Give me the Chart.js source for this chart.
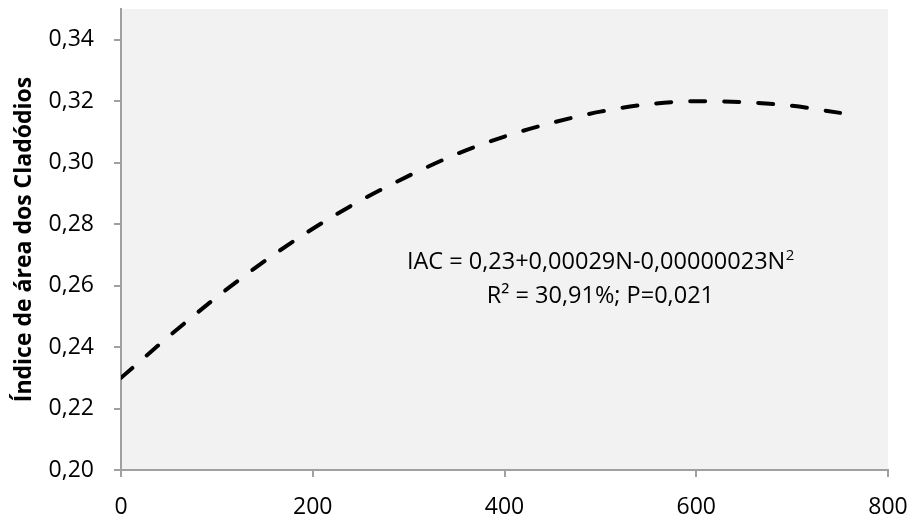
<!DOCTYPE html>
<html>
<head>
<meta charset="utf-8">
<script src="https://cdn.jsdelivr.net/npm/chart.js@4"></script>
<style>
html,body{margin:0;padding:0;background:#fff;}
#wrap{width:912px;height:517px;position:relative;}
</style>
</head>
<body>
<div id="wrap"><canvas id="c" width="912" height="517"></canvas></div>
<script>
// Data
const xValues = [0, 50, 100, 150, 200, 250, 300, 350, 400, 450, 500, 550, 600, 650, 700, 750];
const iacValues = [0.230, 0.2435, 0.2563, 0.2680, 0.2785, 0.2877, 0.2957, 0.3028, 0.3085, 0.3130, 0.3166, 0.3190, 0.3200, 0.3197, 0.3185, 0.3162];
const xTicks = [0, 200, 400, 600, 800];
const yTicks = [0.20, 0.22, 0.24, 0.26, 0.28, 0.30, 0.32, 0.34];
const yTitle = 'Índice de área dos Cladódios';
const eqLine1 = 'IAC = 0,23+0,00029N-0,00000023N';
const eqLine1Sup = '2';
const eqLine2 = 'R² = 30,91%; P=0,021';

const FONT = "'Open Sans', 'Noto Sans', sans-serif";
const AXIS_COLOR = '#a0a0a0';

const bgPlugin = {
  id: 'bg',
  beforeDraw(chart) {
    const a = chart.chartArea, ctx = chart.ctx;
    ctx.save();
    ctx.fillStyle = '#f2f2f2';
    ctx.fillRect(a.left, a.top, a.right - a.left, a.bottom - a.top);
    ctx.restore();
  }
};

const eqPlugin = {
  id: 'eq',
  afterDatasetsDraw(chart) {
    const ctx = chart.ctx;
    const xs = chart.scales.x, ys = chart.scales.y;
    const cx = xs.getPixelForValue(500);
    const y1 = ys.getPixelForValue(0.2675);
    const y2 = ys.getPixelForValue(0.2566);
    ctx.save();
    ctx.fillStyle = '#000';
    ctx.textBaseline = 'middle';
    const mainFont = '23.5px ' + FONT;
    const supFont = '15px ' + FONT;
    ctx.font = mainFont;
    const w1 = ctx.measureText(eqLine1).width;
    ctx.font = supFont;
    const ws = ctx.measureText(eqLine1Sup).width;
    const start = cx - (w1 + ws) / 2;
    ctx.textAlign = 'left';
    ctx.font = mainFont;
    ctx.fillText(eqLine1, start, y1);
    ctx.font = supFont;
    ctx.fillText(eqLine1Sup, start + w1 + 0.5, y1 - 7);
    ctx.font = mainFont;
    ctx.textAlign = 'center';
    ctx.fillText(eqLine2, cx, y2);
    ctx.restore();
  }
};

const points = xValues.map((x, i) => ({x: x, y: iacValues[i]}));

new Chart(document.getElementById('c'), {
  type: 'line',
  data: {
    datasets: [{
      data: points,
      borderColor: '#000',
      borderWidth: 4,
      borderDash: [15, 19],
      borderCapStyle: 'round',
      cubicInterpolationMode: 'monotone',
      pointRadius: 0,
      fill: false
    }]
  },
  options: {
    responsive: false,
    animation: false,
    events: [],
    layout: {padding: {top: 9, right: 24, left: 0, bottom: 0}},
    plugins: {legend: {display: false}, tooltip: {enabled: false}},
    scales: {
      x: {
        type: 'linear',
        min: 0, max: 800,
        afterBuildTicks(scale) { scale.ticks = xTicks.map(v => ({value: v})); },
        afterFit(scale) { scale.height = 47; scale.paddingLeft = 0; scale.paddingRight = 0; },
        ticks: {
          font: {family: FONT, size: 23},
          color: '#000',
          padding: 17,
          maxRotation: 0,
          callback: v => String(v)
        },
        grid: {display: true, drawOnChartArea: false, drawTicks: true, tickLength: 7, color: AXIS_COLOR, lineWidth: 2},
        border: {display: true, color: AXIS_COLOR, width: 2}
      },
      y: {
        type: 'linear',
        min: 0.20, max: 0.35,
        afterBuildTicks(scale) { scale.ticks = yTicks.map(v => ({value: v})); },
        afterFit(scale) { scale.width = 121; scale.paddingTop = 0; scale.paddingBottom = 0; },
        ticks: {
          font: {family: FONT, size: 23},
          color: '#000',
          padding: 20,
          callback: v => v.toFixed(2).replace('.', ',')
        },
        title: {
          display: true,
          text: yTitle,
          color: '#000',
          font: {family: FONT, size: 23, weight: 'bold'},
          padding: {top: 11, bottom: 0}
        },
        grid: {display: true, drawOnChartArea: false, drawTicks: true, tickLength: 7, color: AXIS_COLOR, lineWidth: 2},
        border: {display: true, color: AXIS_COLOR, width: 2}
      }
    }
  },
  plugins: [bgPlugin, eqPlugin]
});
</script>
</body>
</html>
